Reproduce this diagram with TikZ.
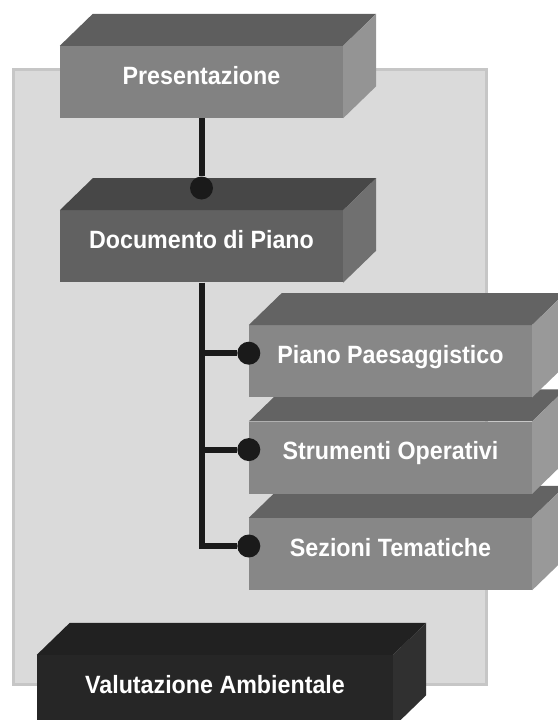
\documentclass[tikz,border=0pt]{standalone}
\usepackage{fontspec}
\setmainfont{Liberation Sans}
\usetikzlibrary{positioning}

\definecolor{panelfill}{HTML}{DADADA}
\definecolor{panelline}{HTML}{C6C6C6}
\definecolor{linkcol}{HTML}{1A1A1A}

% slightly condensed label text
\newcommand{\lbl}[1]{\scalebox{0.93}[1]{#1}}

\tikzset{
  block/.style={fill=#1, minimum width=283pt, minimum height=72pt, inner sep=0pt,
    text=white, font=\bfseries\fontsize{25}{30}\selectfont,
    text height=18pt, text depth=14pt},
  link/.style={draw=linkcol, line width=6pt},
  dot/.style={circle, fill=linkcol, minimum size=23pt, inner sep=0pt},
}

% top and right faces of a block: name, top colour, side colour
\newcommand{\faces}[3]{%
  \fill[#2] (#1.north west) -- ([shift={(33,-32)}]#1.north west)
    -- ([shift={(33,-32)}]#1.north east) -- (#1.north east) -- cycle;
  \fill[#3] (#1.north east) -- ([shift={(33,-32)}]#1.north east)
    -- ([shift={(33,-32)}]#1.south east) -- (#1.south east) -- cycle;
}

\begin{document}
\begin{tikzpicture}[x=1pt, y=-1pt]
  \useasboundingbox (0,0) rectangle (557,720);

  % Background panel
  \draw[panelline, line width=3pt, fill=panelfill] (13,69) rectangle (486,684);

  % Main blocks
  \node[block=black!49] (pres) at (201.5,82) {\lbl{Presentazione}};
  \faces{pres}{black!63}{black!42}
  \node[block=black!62, below=92pt of pres] (doc) {\lbl{Documento di Piano}};
  \faces{doc}{black!72}{black!56}

  % Sub blocks, drawn from the bottom up
  \node[block=black!47] (st) at (390.5,554) {\lbl{Sezioni Tematiche}};
  \faces{st}{black!61}{black!40}
  \node[block=black!47, above=24pt of st] (so) {\lbl{Strumenti Operativi}};
  \faces{so}{black!61}{black!40}
  \node[block=black!47, above=24pt of so] (pp) {\lbl{Piano Paesaggistico}};
  \faces{pp}{black!61}{black!40}

  % Connections
  \node[dot] (d0) at (201.5,188) {};
  \node[dot] (d1) at ([yshift=8pt]pp.west) {};
  \node[dot] (d2) at ([yshift=8pt]so.west) {};
  \node[dot] (d3) at ([yshift=8pt]st.west) {};
  \draw[link] (pres.south) -- (d0);
  \draw[link] (doc.south) -- (doc.south |- d3) -- (d3);
  \draw[link] (doc.south |- d1) -- (d1);
  \draw[link] (doc.south |- d2) -- (d2);

  % Bottom block
  \node[block=black!85, minimum width=356pt] (va) at (215,691) {\lbl{Valutazione Ambientale}};
  \faces{va}{black!87}{black!81}
\end{tikzpicture}
\end{document}
